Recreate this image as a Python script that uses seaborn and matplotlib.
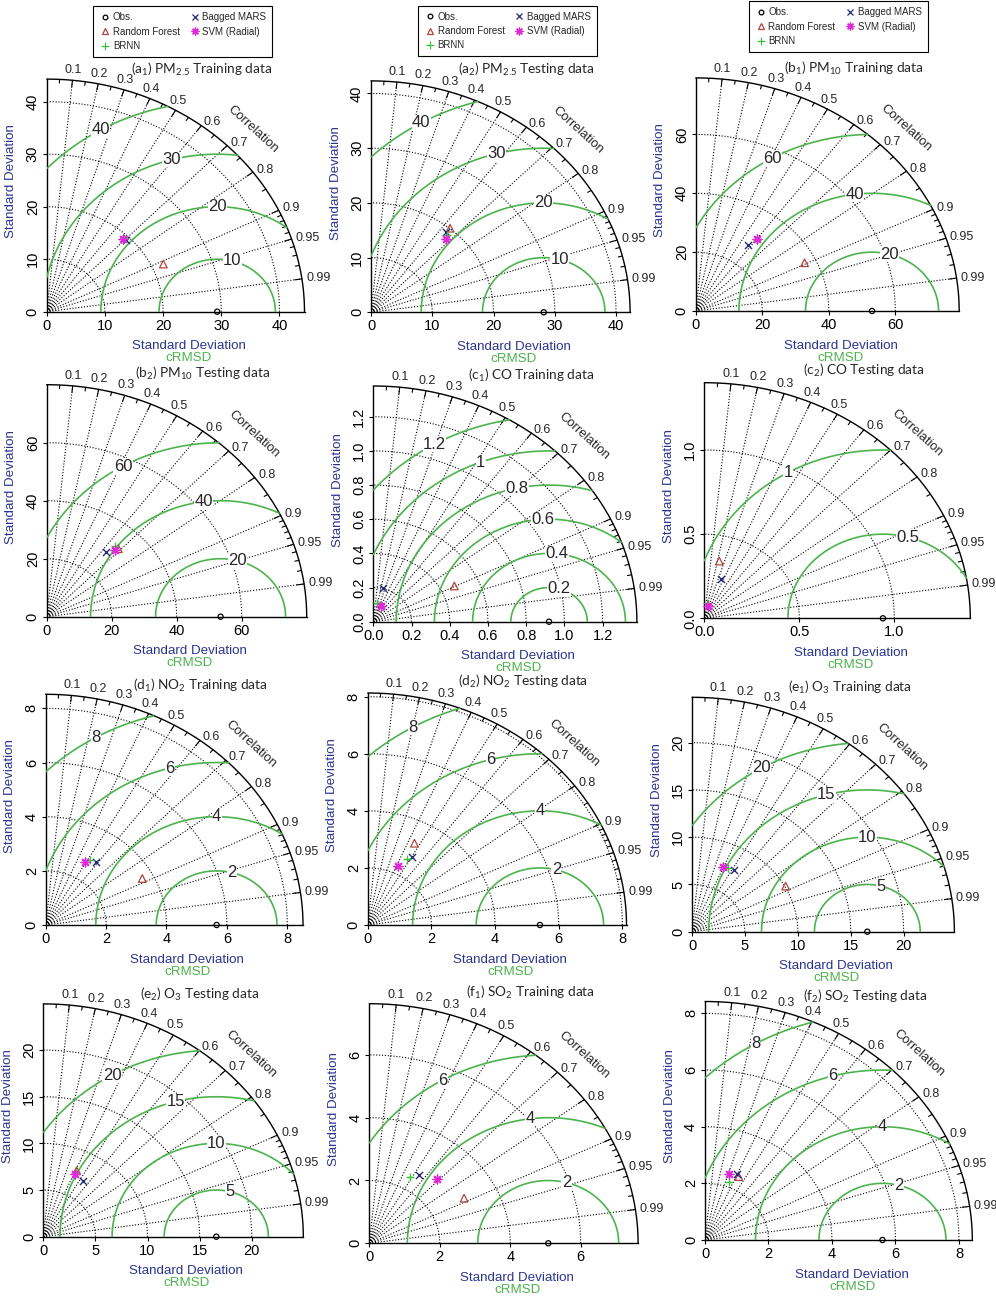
import numpy as np
import pandas as pd
import matplotlib
matplotlib.use("Agg")
import matplotlib.pyplot as plt
import seaborn as sns
from matplotlib.lines import Line2D

sns.set_style("ticks", {"axes.edgecolor": "black", "xtick.color": "black", "ytick.color": "black"})
plt.rcParams['font.family'] = ['Liberation Sans', 'DejaVu Sans']
plt.rcParams['mathtext.fontset'] = 'custom'
plt.rcParams['mathtext.rm'] = 'Lato'
plt.rcParams['mathtext.default'] = 'rm'

# ---- data ----
titles = [r"(a$_1$) PM$_{2.5}$ Training data", r"(a$_2$) PM$_{2.5}$ Testing data",
          r"(b$_1$) PM$_{10}$ Training data", r"(b$_2$) PM$_{10}$ Testing data",
          r"(c$_1$) CO Training data", r"(c$_2$) CO Testing data",
          r"(d$_1$) NO$_2$ Training data", r"(d$_2$) NO$_2$ Testing data",
          r"(e$_1$) O$_3$ Training data", r"(e$_2$) O$_3$ Testing data",
          r"(f$_1$) SO$_2$ Training data", r"(f$_2$) SO$_2$ Testing data"]
obs_std = [29.3, 28.2, 53.0, 53.5, 0.92, 0.94, 5.66, 5.41, 16.57, 16.6, 5.08, 5.59]
std_max = [44.3, 42.3, 79.2, 80.0, 1.38, 1.40, 8.52, 8.13, 24.8, 24.95, 7.63, 8.42]
std_ticks = [[0, 10, 20, 30, 40], [0, 10, 20, 30, 40], [0, 20, 40, 60], [0, 20, 40, 60],
             [0, 0.2, 0.4, 0.6, 0.8, 1.0, 1.2], [0, 0.5, 1.0], [0, 2, 4, 6, 8], [0, 2, 4, 6, 8],
             [0, 5, 10, 15, 20], [0, 5, 10, 15, 20], [0, 2, 4, 6], [0, 2, 4, 6, 8]]
rms_levels = [[10, 20, 30, 40], [10, 20, 30, 40], [20, 40, 60], [20, 40, 60],
              [0.2, 0.4, 0.6, 0.8, 1, 1.2], [0.5, 1], [2, 4, 6, 8], [2, 4, 6, 8],
              [5, 10, 15, 20], [5, 10, 15, 20], [2, 4, 6], [2, 4, 6, 8]]
corr_lines = [0.1, 0.2, 0.3, 0.4, 0.5, 0.6, 0.7, 0.8, 0.9, 0.95, 0.99]

rf_std = [22.0, 20.07, 36.6, 32.2, 0.473, 0.349, 3.63, 3.22, 10.08, 7.76, 3.05, 2.48]
rf_cor = [0.911, 0.643, 0.894, 0.685, 0.897, 0.226, 0.881, 0.456, 0.878, 0.412, 0.882, 0.43]
mars_std = [19.27, 19.05, 27.4, 28.8, 0.202, 0.249, 2.87, 2.75, 7.64, 7.09, 2.59, 2.54]
mars_cor = [0.706, 0.64, 0.577, 0.636, 0.258, 0.345, 0.58, 0.503, 0.52, 0.542, 0.543, 0.40]
svm_std = [19.04, 18.11, 30.7, 31.1, 0.100, 0.077, 2.68, 2.29, 7.40, 7.32, 2.79, 2.45]
svm_cor = [0.686, 0.676, 0.603, 0.675, 0.40, 0.227, 0.489, 0.42, 0.392, 0.41, 0.684, 0.312]
brnn_std = [19.38, 18.85, 30.3, 32.2, 0.108, 0.09, 2.81, 2.63, 7.53, 7.54, 2.40, 2.17]
brnn_cor = [0.686, 0.661, 0.605, 0.652, 0.16, 0.137, 0.523, 0.475, 0.456, 0.416, 0.481, 0.352]

# ---- layout (pixels: origin x, origin y, width, height) ----
W, H = 996, 1299
layout = [(46.7, 311.7, 257.8, 232.6), (371.0, 312.3, 259.1, 231.4), (695.7, 311.0, 263.5, 233.1),
          (46.7, 616.7, 260.0, 232.0), (373.3, 621.7, 263.6, 235.7), (704.3, 618.3, 266.0, 235.6),
          (45.7, 925.0, 257.3, 230.7), (367.7, 925.0, 258.8, 232.0), (692.0, 931.7, 262.4, 234.4),
          (43.3, 1236.7, 260.0, 232.8), (369.3, 1243.3, 268.8, 239.6), (705.0, 1240.0, 267.3, 238.5)]
title_y = [1.04, 1.05, 1.04, 1.05, 1.045, 1.05, 1.04, 1.05, 1.04, 1.04, 1.045, 1.02]
legend_centers = [(182.8, 31.7), (507.5, 31.0), (838.3, 26.7)]

navy = '#2B3590'
green = '#4DB34D'
styles = {
    "Obs.": dict(marker='o', color='black', fill=False, s=14),
    "Random Forest": dict(marker='^', color='#B0443A', fill=False, s=30),
    "Bagged MARS": dict(marker='x', color='#232B7A', fill=True, s=26),
    "SVM (Radial)": dict(marker=(8, 2, 0), color='#E02AD8', fill=True, s=40),
    "BRNN": dict(marker='+', color='#3CC43C', fill=True, s=40),
}


def fmt_tick(v, ticks):
    if all(float(t).is_integer() for t in ticks):
        return f"{int(v)}"
    return f"{v:.1f}"


def draw_point(ax, name, x, y):
    st = styles[name]
    kw = dict(x=[x], y=[y], ax=ax, marker=st['marker'], s=st['s'], color=st['color'],
              legend=False, zorder=6, clip_on=False)
    if st['fill']:
        kw['linewidth'] = 1.0
    else:
        kw.update(facecolor='none', edgecolor=st['color'], linewidth=0.9)
    sns.scatterplot(**kw)


def taylor(ax, i):
    rmax = std_max[i]
    obs = obs_std[i]
    ox, oy, w, h = layout[i]
    sx, sy = w / rmax, h / rmax
    ax.set_xlim(0, rmax)
    ax.set_ylim(0, rmax)
    t = np.linspace(0, np.pi / 2, 400)

    # std dotted arcs
    for s in std_ticks[i][1:]:
        if s < rmax:
            ax.plot(s * np.cos(t), s * np.sin(t), ls=(0, (1, 1.6)), color='k', lw=0.8, zorder=1)
    # correlation rays and labels
    for c in corr_lines:
        th = np.arccos(c)
        ax.plot([0, rmax * np.cos(th)], [0, rmax * np.sin(th)], ls=(0, (1, 1.6)), color='k', lw=0.8, zorder=1)
        if th < np.radians(58):
            ha, va = 'left', 'center'
        else:
            ha, va = 'center', 'bottom'
        ax.annotate(f"{c:g}", (rmax * np.cos(th), rmax * np.sin(th)),
                    xytext=(3 * np.cos(th), 3 * np.sin(th)), textcoords='offset points',
                    ha=ha, va=va, fontsize=9, annotation_clip=False)
    # ticks on the outer arc
    minor = list(np.arange(0.05, 0.9, 0.1)) + [0.91, 0.92, 0.93, 0.94, 0.96, 0.97, 0.98]
    for c, L in [(c, 0.028) for c in corr_lines] + [(c, 0.016) for c in minor]:
        th = np.arccos(c)
        ax.plot([rmax * (1 - L) * np.cos(th), rmax * np.cos(th)],
                [rmax * (1 - L) * np.sin(th), rmax * np.sin(th)], color='k', lw=0.8, zorder=2)
    # outer arc
    ax.plot(rmax * np.cos(t), rmax * np.sin(t), color='k', lw=1.0, zorder=3, clip_on=False)

    # cRMSD arcs
    tt = np.linspace(0, np.pi, 800)
    angs = np.radians(np.linspace(75, 120, len(rms_levels[i])))
    for r, a in zip(rms_levels[i], angs):
        x = obs + r * np.cos(tt)
        y = r * np.sin(tt)
        m = (x >= 0) & (x ** 2 + y ** 2 <= rmax ** 2)
        ax.plot(np.where(m, x, np.nan), np.where(m, y, np.nan), color=green, lw=1.2, zorder=4)
        ax.text(obs + r * np.cos(a), r * np.sin(a), f"{r:g}", fontsize=12, ha='center', va='center',
                zorder=5, bbox=dict(facecolor='white', edgecolor='none', pad=0.2))

    # points
    draw_point(ax, "Obs.", obs, 0)
    for name, sd, cr in [("Random Forest", rf_std, rf_cor), ("Bagged MARS", mars_std, mars_cor),
                         ("BRNN", brnn_std, brnn_cor), ("SVM (Radial)", svm_std, svm_cor)]:
        draw_point(ax, name, sd[i] * cr[i], sd[i] * np.sqrt(1 - cr[i] ** 2))

    # axes
    sns.despine(ax=ax)
    ticks = std_ticks[i]
    ax.set_xticks(ticks)
    ax.set_yticks(ticks)
    ax.set_xticklabels([fmt_tick(v, ticks) for v in ticks])
    ax.set_yticklabels([fmt_tick(v, ticks) for v in ticks], rotation=90, va='center')
    ax.tick_params(direction='out', length=3, width=0.8, labelsize=10.5, pad=2)
    for sp in ax.spines.values():
        sp.set_linewidth(1.0)
    ax.grid(False)

    ax.annotate("Standard Deviation", (0.55 * rmax, 0), xytext=(0, -25), textcoords='offset points',
                ha='center', va='center', fontsize=9.6, color=navy, annotation_clip=False)
    ax.annotate("cRMSD", (0.55 * rmax, 0), xytext=(0, -33.5), textcoords='offset points',
                ha='center', va='center', fontsize=9.6, color=green, annotation_clip=False)
    ax.annotate("Standard Deviation", (0, 0.56 * rmax), xytext=(-25.5, 0), textcoords='offset points',
                ha='center', va='center', fontsize=9.6, color=navy, rotation=90, annotation_clip=False)

    th = np.radians(44.5)
    rot = np.degrees(np.arctan2(-sy * np.cos(th), sx * np.sin(th)))
    ax.text(1.12 * rmax * np.cos(th), 1.12 * rmax * np.sin(th), "Correlation", fontsize=9.4,
            rotation=rot, ha='center', va='center', rotation_mode='anchor')
    ax.text(0.6 * rmax, title_y[i] * rmax, titles[i], fontsize=9.8, family=['Lato', 'DejaVu Sans'],
            ha='center', va='center')


fig = plt.figure(figsize=(W / 100, H / 100), dpi=100)
axes = []
for i, (ox, oy, w, h) in enumerate(layout):
    ax = fig.add_axes([ox / W, (H - oy) / H, w / W, h / H])
    taylor(ax, i)
    axes.append(ax)

order = ["Obs.", "Random Forest", "BRNN", "Bagged MARS", "SVM (Radial)"]
handles = []
for name in order:
    st = styles[name]
    handles.append(Line2D([], [], ls='none', marker=st['marker'], color=st['color'],
                          markerfacecolor='none' if not st['fill'] else st['color'],
                          markersize=np.sqrt(st['s']) * 0.9, markeredgewidth=0.9))
for k, (cx, cy) in enumerate(legend_centers):
    leg = axes[k].legend(handles, order, loc='center', bbox_to_anchor=(cx / W, 1 - cy / H),
                         bbox_transform=fig.transFigure, ncol=2, fontsize=7, frameon=True,
                         fancybox=False, edgecolor='black', framealpha=1, borderpad=0.6,
                         handletextpad=0.2, columnspacing=0.9, labelspacing=0.45, handlelength=1.2)
    leg.get_frame().set_linewidth(0.8)

fig.savefig("out.png", dpi=100, facecolor='white')
